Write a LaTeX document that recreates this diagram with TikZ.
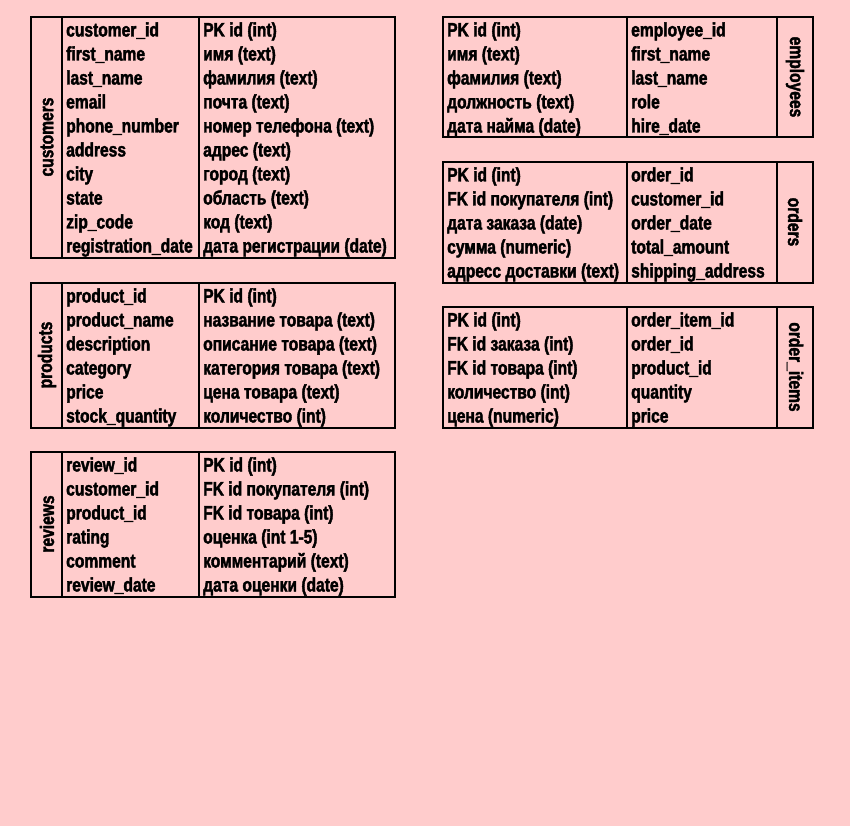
\documentclass[tikz,border=0pt]{standalone}
\usepackage{fontspec}
\newfontfamily\tf{Liberation Sans}[FakeStretch=0.8,FakeBold=2]
\definecolor{bg}{RGB}{255,204,204}
\begin{document}
\begin{tikzpicture}[x=1pt,y=-1pt,
  cell/.style={anchor=base west, inner sep=0pt, font=\tf\bfseries\fontsize{19.5}{20}\selectfont},
  ttl/.style={inner sep=0pt, font=\tf\bfseries\fontsize{19.5}{20}\selectfont},
  tbl/.style={draw=black, line width=2pt, anchor=north west, inner sep=0pt, outer sep=0pt},
  sep/.style={draw=black, line width=1.3pt}]
\fill[bg] (0,0) rectangle (850,826);
\useasboundingbox (0,0) rectangle (850,826);

% ---------- customers ----------
\node[tbl, minimum width=364pt, minimum height=240.5pt] (customers) at (31,17) {};
\draw[sep] (62,17) -- (62,257.5);
\draw[sep] (199,17) -- (199,257.5);
\node[ttl, rotate=90] (customers-title) at (47,137) {customers};
\foreach \a/\b [count=\i] in {customer\_id/PK id (int), first\_name/имя (text), last\_name/фамилия (text), email/почта (text), phone\_number/номер телефона (text), address/адрес (text), city/город (text), state/область (text), zip\_code/код (text), registration\_date/дата регистрации (date)}{
  \node[cell] (cust-a\i) at (66,{17+24*\i-4.5}) {\a};
  \node[cell] (cust-b\i) at (203,{17+24*\i-4.5}) {\b};
}

% ---------- products ----------
\node[tbl, minimum width=364pt, minimum height=144.5pt] (products) at (31,283) {};
\draw[sep] (62,283) -- (62,427.5);
\draw[sep] (199,283) -- (199,427.5);
\node[ttl, rotate=90] (products-title) at (47,355) {products};
\foreach \a/\b [count=\i] in {product\_id/PK id (int), product\_name/название товара (text), description/описание товара (text), category/категория товара (text), price/цена товара (text), stock\_quantity/количество (int)}{
  \node[cell] (prod-a\i) at (66,{283+24*\i-4.5}) {\a};
  \node[cell] (prod-b\i) at (203,{283+24*\i-4.5}) {\b};
}

% ---------- reviews ----------
\node[tbl, minimum width=364pt, minimum height=144.5pt] (reviews) at (31,452) {};
\draw[sep] (62,452) -- (62,596.5);
\draw[sep] (199,452) -- (199,596.5);
\node[ttl, rotate=90] (reviews-title) at (47,524) {reviews};
\foreach \a/\b [count=\i] in {review\_id/PK id (int), customer\_id/FK id покупателя (int), product\_id/FK id товара (int), rating/оценка (int 1-5), comment/комментарий (text), review\_date/дата оценки (date)}{
  \node[cell] (rev-a\i) at (66,{452+24*\i-4.5}) {\a};
  \node[cell] (rev-b\i) at (203,{452+24*\i-4.5}) {\b};
}

% ---------- employees ----------
\node[tbl, minimum width=370pt, minimum height=120.5pt] (employees) at (443,17) {};
\draw[sep] (627,17) -- (627,137.5);
\draw[sep] (777,17) -- (777,137.5);
\node[ttl, rotate=-90] (employees-title) at (795,77) {employees};
\foreach \a/\b [count=\i] in {PK id (int)/employee\_id, имя (text)/first\_name, фамилия (text)/last\_name, должность (text)/role, дата найма (date)/hire\_date}{
  \node[cell] (emp-a\i) at (447,{17+24*\i-4.5}) {\a};
  \node[cell] (emp-b\i) at (631,{17+24*\i-4.5}) {\b};
}

% ---------- orders ----------
\node[tbl, minimum width=370pt, minimum height=120.5pt] (orders) at (443,162) {};
\draw[sep] (627,162) -- (627,282.5);
\draw[sep] (777,162) -- (777,282.5);
\node[ttl, rotate=-90] (orders-title) at (795,222) {orders};
\foreach \a/\b [count=\i] in {PK id (int)/order\_id, FK id покупателя (int)/customer\_id, дата заказа (date)/order\_date, сумма (numeric)/total\_amount, адресс доставки (text)/shipping\_address}{
  \node[cell] (ord-a\i) at (447,{162+24*\i-4.5}) {\a};
  \node[cell] (ord-b\i) at (631,{162+24*\i-4.5}) {\b};
}

% ---------- order_items ----------
\node[tbl, minimum width=370pt, minimum height=120.5pt] (orderitems) at (443,307) {};
\draw[sep] (627,307) -- (627,427.5);
\draw[sep] (777,307) -- (777,427.5);
\node[ttl, rotate=-90] (orderitems-title) at (795,367) {order\_items};
\foreach \a/\b [count=\i] in {PK id (int)/order\_item\_id, FK id заказа (int)/order\_id, FK id товара (int)/product\_id, количество (int)/quantity, цена (numeric)/price}{
  \node[cell] (oi-a\i) at (447,{307+24*\i-4.5}) {\a};
  \node[cell] (oi-b\i) at (631,{307+24*\i-4.5}) {\b};
}
\end{tikzpicture}
\end{document}
